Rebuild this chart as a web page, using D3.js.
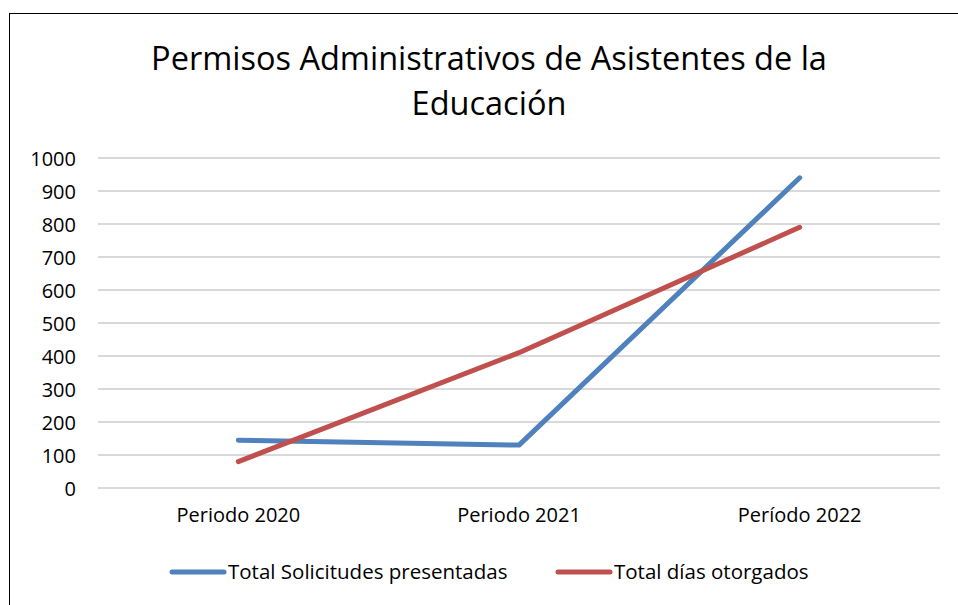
<!DOCTYPE html>
<html>
<head>
<meta charset="utf-8">
<script src="https://cdn.jsdelivr.net/npm/d3@7"></script>
<style>
  body { margin: 0; background: #fff; }
  svg { display: block; }
  svg text { font-family: "Open Sans", "Noto Sans", sans-serif; }
  .grid line { stroke: #d9d9d9; stroke-width: 2; }
  .tick text { font-size: 20px; fill: #000; }
</style>
</head>
<body>
<div id="wrapper"></div>
<script>
// chart data
const categories = ["Periodo 2020", "Periodo 2021", "Período 2022"];
const solicitudes = [145, 130, 940];
const diasOtorgados = [80, 410, 790];
const yTicks = [0, 100, 200, 300, 400, 500, 600, 700, 800, 900, 1000];
const seriesNames = ["Total Solicitudes presentadas", "Total días otorgados"];
const colors = ["#4f81bd", "#c0504d"];

const W = 958, H = 605;
const margin = {top: 158, right: 18, bottom: 117, left: 98};
const width = W - margin.left - margin.right;
const height = H - margin.top - margin.bottom;

const svg = d3.select("#wrapper").append("svg")
  .attr("width", W).attr("height", H);

// outer frame
svg.append("rect")
  .attr("x", 9.5).attr("y", 13.5)
  .attr("width", W + 10).attr("height", H + 10)
  .attr("fill", "none").attr("stroke", "#000").attr("stroke-width", 1);

// title
const title = svg.append("text")
  .attr("text-anchor", "middle")
  .attr("font-size", 32.5)
  .attr("fill", "#000");
title.append("tspan").attr("x", 489).attr("y", 70).text("Permisos Administrativos de Asistentes de la");
title.append("tspan").attr("x", 489).attr("y", 115).text("Educación");

const bounds = svg.append("g")
  .attr("transform", "translate(" + margin.left + "," + margin.top + ")");

const xScale = d3.scaleBand().domain(categories).range([0, width]);
const yScale = d3.scaleLinear().domain([0, 1000]).range([height, 0]);

// gridlines
bounds.append("g").attr("class", "grid")
  .selectAll("line").data(yTicks).enter().append("line")
  .attr("x1", 0).attr("x2", width)
  .attr("y1", d => yScale(d)).attr("y2", d => yScale(d));

// y axis
const yAxis = d3.axisLeft(yScale).tickValues(yTicks).tickFormat(d3.format("d"))
  .tickSize(0).tickPadding(22);
bounds.append("g").call(yAxis)
  .call(g => g.select(".domain").remove())
  .selectAll("text").attr("dy", "0.35em");

// x axis
const xAxis = d3.axisBottom(xScale).tickSize(0).tickPadding(20);
bounds.append("g").attr("transform", "translate(0," + height + ")").call(xAxis)
  .call(g => g.select(".domain").remove());

// lines
const line = d3.line()
  .x((d, i) => xScale(categories[i]) + xScale.bandwidth() / 2)
  .y(d => yScale(d));

[solicitudes, diasOtorgados].forEach((s, i) => {
  bounds.append("path")
    .datum(s)
    .attr("d", line)
    .attr("fill", "none")
    .attr("stroke", colors[i])
    .attr("stroke-width", 5)
    .attr("stroke-linecap", "round")
    .attr("stroke-linejoin", "round");
});

// legend
const legendX = [172, 558];
seriesNames.forEach((name, i) => {
  const g = svg.append("g").attr("transform", "translate(" + legendX[i] + ",572)");
  g.append("line").attr("x1", 0).attr("x2", 52)
    .attr("stroke", colors[i]).attr("stroke-width", 5).attr("stroke-linecap", "round");
  g.append("text").attr("x", 56).attr("dy", "0.35em")
    .attr("font-size", 20.5).attr("fill", "#000").text(name);
});
</script>
</body>
</html>
